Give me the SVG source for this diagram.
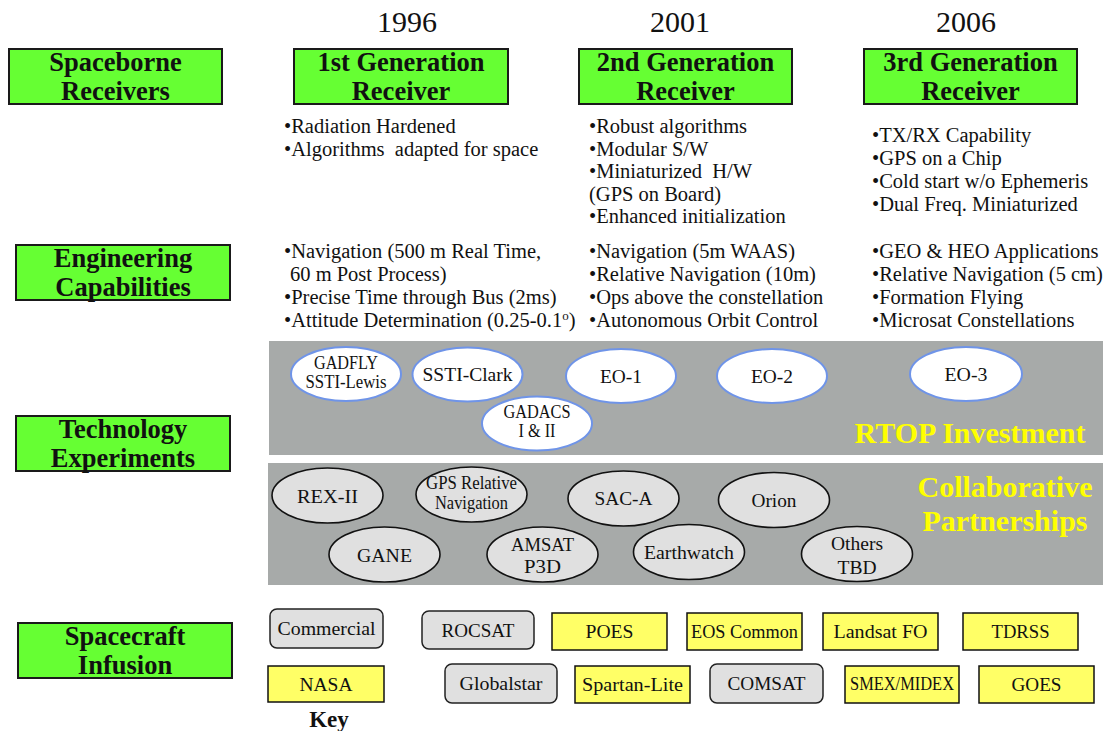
<svg xmlns="http://www.w3.org/2000/svg" width="1107" height="731" viewBox="0 0 1107 731">
<style>
text{font-family:'Liberation Serif','Times New Roman',serif;fill:#111}
.yr{font-size:30px;text-anchor:middle}
.gb{fill:#66ff33;stroke:#1a1a1a;stroke-width:2}
.gt{font-size:26.5px;font-weight:bold;text-anchor:middle}
.bl{font-size:20.5px}
.panel{fill:#a7aaa9}
.we{fill:#ffffff;stroke:#6f94e8;stroke-width:2}
.ge{fill:#e0e0e0;stroke:#111;stroke-width:1.6}
.et{font-size:19.5px;text-anchor:middle}
.yt{font-size:30px;font-weight:bold;fill:#ffff00;text-anchor:middle}
.yb{fill:#ffff66;stroke:#111;stroke-width:1.5}
.gr{fill:#e0e0e0;stroke:#222;stroke-width:1.5}
.bt{font-size:19.5px;text-anchor:middle}
</style>

<g id="years">
<text class="yr" x="407" y="32">1996</text>
<text class="yr" x="680" y="32">2001</text>
<text class="yr" x="966" y="32">2006</text>
</g>

<g id="spaceborne-receivers">
<rect class="gb" x="9" y="49" width="213" height="55"/>
<text class="gt" x="115.5" y="71">Spaceborne</text>
<text class="gt" x="115.5" y="100">Receivers</text>
</g>
<g id="gen1">
<rect class="gb" x="294" y="49" width="214" height="55"/>
<text class="gt" x="401" y="71">1st Generation</text>
<text class="gt" x="401" y="100">Receiver</text>
</g>
<g id="gen2">
<rect class="gb" x="579" y="49" width="213" height="55"/>
<text class="gt" x="685.5" y="71">2nd Generation</text>
<text class="gt" x="685.5" y="100">Receiver</text>
</g>
<g id="gen3">
<rect class="gb" x="864" y="49" width="213" height="55"/>
<text class="gt" x="970.5" y="71">3rd Generation</text>
<text class="gt" x="970.5" y="100">Receiver</text>
</g>

<g id="gen1-features">
<text class="bl" x="284" y="133">•Radiation Hardened</text>
<text class="bl" x="284" y="156" xml:space="preserve">•Algorithms  adapted for space</text>
</g>
<g id="gen2-features">
<text class="bl" x="589" y="133">•Robust algorithms</text>
<text class="bl" x="589" y="156">•Modular S/W</text>
<text class="bl" x="589" y="178" xml:space="preserve">•Miniaturized  H/W</text>
<text class="bl" x="589" y="201">(GPS on Board)</text>
<text class="bl" x="589" y="223">•Enhanced initialization</text>
</g>
<g id="gen3-features">
<text class="bl" x="872" y="142">•TX/RX Capability</text>
<text class="bl" x="872" y="165">•GPS on a Chip</text>
<text class="bl" x="872" y="188">•Cold start w/o Ephemeris</text>
<text class="bl" x="872" y="211">•Dual Freq. Miniaturized</text>
</g>

<g id="engineering-capabilities">
<rect class="gb" x="16" y="245" width="214" height="55"/>
<text class="gt" x="123" y="267">Engineering</text>
<text class="gt" x="123" y="296">Capabilities</text>
</g>
<g id="eng-1996">
<text class="bl" x="284" y="258">•Navigation (500 m Real Time,</text>
<text class="bl" x="290" y="281">60 m Post Process)</text>
<text class="bl" x="284" y="304">•Precise Time through Bus (2ms)</text>
<text class="bl" x="284" y="327">•Attitude Determination (0.25-0.1<tspan font-size="13" dy="-7">o</tspan><tspan dy="7">)</tspan></text>
</g>
<g id="eng-2001">
<text class="bl" x="589" y="258">•Navigation (5m WAAS)</text>
<text class="bl" x="589" y="281">•Relative Navigation (10m)</text>
<text class="bl" x="589" y="304">•Ops above the constellation</text>
<text class="bl" x="589" y="327">•Autonomous Orbit Control</text>
</g>
<g id="eng-2006">
<text class="bl" x="872" y="258">•GEO &amp; HEO Applications</text>
<text class="bl" x="872" y="281">•Relative Navigation (5 cm)</text>
<text class="bl" x="872" y="304">•Formation Flying</text>
<text class="bl" x="872" y="327">•Microsat Constellations</text>
</g>

<g id="technology-experiments">
<rect class="gb" x="16" y="416" width="214" height="55"/>
<text class="gt" x="123" y="438">Technology</text>
<text class="gt" x="123" y="467">Experiments</text>
</g>

<g id="rtop-panel">
<rect class="panel" x="269" y="341" width="834" height="114"/>
<text class="yt" x="970" y="443">RTOP Investment</text>
</g>
<g id="gadfly">
<ellipse class="we" cx="346" cy="374" rx="55" ry="27"/>
<text class="et" x="346" y="369" font-size="15.5" textLength="64" lengthAdjust="spacingAndGlyphs">GADFLY</text>
<text class="et" x="346" y="388" font-size="15.5" textLength="81" lengthAdjust="spacingAndGlyphs">SSTI-Lewis</text>
</g>
<g id="ssti-clark">
<ellipse class="we" cx="467.5" cy="374.5" rx="55" ry="27"/>
<text class="et" x="467.5" y="381" textLength="90" lengthAdjust="spacingAndGlyphs">SSTI-Clark</text>
</g>
<g id="eo1">
<ellipse class="we" cx="621" cy="376" rx="55" ry="27"/>
<text class="et" x="621" y="383" textLength="42" lengthAdjust="spacingAndGlyphs">EO-1</text>
</g>
<g id="eo2">
<ellipse class="we" cx="772" cy="376" rx="55" ry="27"/>
<text class="et" x="772" y="383" textLength="42" lengthAdjust="spacingAndGlyphs">EO-2</text>
</g>
<g id="eo3">
<ellipse class="we" cx="966" cy="374" rx="56" ry="27"/>
<text class="et" x="966" y="381" textLength="43" lengthAdjust="spacingAndGlyphs">EO-3</text>
</g>
<g id="gadacs">
<ellipse class="we" cx="537" cy="423.5" rx="55" ry="27"/>
<text class="et" x="537" y="418" font-size="16" textLength="67" lengthAdjust="spacingAndGlyphs">GADACS</text>
<text class="et" x="537" y="437" font-size="16" textLength="37" lengthAdjust="spacingAndGlyphs">I &amp; II</text>
</g>

<g id="collab-panel">
<rect class="panel" x="268" y="463" width="835" height="122"/>
<text class="yt" x="1005" y="497">Collaborative</text>
<text class="yt" x="1005" y="531">Partnerships</text>
</g>
<g id="rex2">
<ellipse class="ge" cx="327.5" cy="495.5" rx="55.5" ry="27.5"/>
<text class="et" x="327.5" y="503" font-size="20" textLength="61" lengthAdjust="spacingAndGlyphs">REX-II</text>
</g>
<g id="gps-relnav">
<ellipse class="ge" cx="471.5" cy="494.5" rx="55.5" ry="27.5"/>
<text class="et" x="471.5" y="489" font-size="15" textLength="91" lengthAdjust="spacingAndGlyphs">GPS Relative</text>
<text class="et" x="471.5" y="508.5" font-size="15" textLength="73" lengthAdjust="spacingAndGlyphs">Navigation</text>
</g>
<g id="sac-a">
<ellipse class="ge" cx="623.5" cy="498.5" rx="55.5" ry="27.5"/>
<text class="et" x="623.5" y="505" textLength="58" lengthAdjust="spacingAndGlyphs">SAC-A</text>
</g>
<g id="orion">
<ellipse class="ge" cx="774" cy="500" rx="55.5" ry="27.5"/>
<text class="et" x="774" y="507" textLength="45" lengthAdjust="spacingAndGlyphs">Orion</text>
</g>
<g id="gane">
<ellipse class="ge" cx="384.5" cy="554.5" rx="55.5" ry="27.5"/>
<text class="et" x="384.5" y="562" textLength="55" lengthAdjust="spacingAndGlyphs">GANE</text>
</g>
<g id="amsat">
<ellipse class="ge" cx="542.5" cy="554.5" rx="55.5" ry="27.5"/>
<text class="et" x="542.5" y="551" textLength="63" lengthAdjust="spacingAndGlyphs">AMSAT</text>
<text class="et" x="542.5" y="573" textLength="37" lengthAdjust="spacingAndGlyphs">P3D</text>
</g>
<g id="earthwatch">
<ellipse class="ge" cx="689" cy="552" rx="55.5" ry="27.5"/>
<text class="et" x="689" y="559" font-size="19" textLength="90" lengthAdjust="spacingAndGlyphs">Earthwatch</text>
</g>
<g id="others">
<ellipse class="ge" cx="857" cy="554" rx="55.5" ry="27.5"/>
<text class="et" x="857" y="550" textLength="52" lengthAdjust="spacingAndGlyphs">Others</text>
<text class="et" x="857" y="574" textLength="39" lengthAdjust="spacingAndGlyphs">TBD</text>
</g>

<g id="spacecraft-infusion">
<rect class="gb" x="18" y="623" width="214" height="55"/>
<text class="gt" x="125" y="645">Spacecraft</text>
<text class="gt" x="125" y="674">Infusion</text>
</g>

<g id="commercial">
<rect class="gr" x="270" y="609" width="113" height="39" rx="7"/>
<text class="bt" x="326.5" y="635" font-size="20" textLength="98" lengthAdjust="spacingAndGlyphs">Commercial</text>
</g>
<g id="rocsat">
<rect class="gr" x="422" y="611" width="112" height="38" rx="7"/>
<text class="bt" x="478" y="637" font-size="18.8" textLength="73" lengthAdjust="spacingAndGlyphs">ROCSAT</text>
</g>
<g id="poes">
<rect class="yb" x="552" y="613" width="115" height="37"/>
<text class="bt" x="609.5" y="638" textLength="48" lengthAdjust="spacingAndGlyphs">POES</text>
</g>
<g id="eos-common">
<rect class="yb" x="687" y="613" width="115" height="37"/>
<text class="bt" x="744.5" y="638" font-size="18.4" textLength="107" lengthAdjust="spacingAndGlyphs">EOS Common</text>
</g>
<g id="landsat-fo">
<rect class="yb" x="823" y="613" width="115" height="37"/>
<text class="bt" x="880.5" y="638" font-size="20" textLength="94" lengthAdjust="spacingAndGlyphs">Landsat FO</text>
</g>
<g id="tdrss">
<rect class="yb" x="963" y="613" width="115" height="37"/>
<text class="bt" x="1020.5" y="638" font-size="18.8" textLength="58" lengthAdjust="spacingAndGlyphs">TDRSS</text>
</g>
<g id="nasa">
<rect class="yb" x="268" y="666" width="116" height="36"/>
<text class="bt" x="326" y="691" textLength="53" lengthAdjust="spacingAndGlyphs">NASA</text>
</g>
<g id="globalstar">
<rect class="gr" x="445" y="664" width="112" height="39" rx="7"/>
<text class="bt" x="501" y="690" font-size="20" textLength="83" lengthAdjust="spacingAndGlyphs">Globalstar</text>
</g>
<g id="spartan-lite">
<rect class="yb" x="575" y="666" width="115" height="37"/>
<text class="bt" x="632.5" y="691" font-size="20" textLength="101" lengthAdjust="spacingAndGlyphs">Spartan-Lite</text>
</g>
<g id="comsat">
<rect class="gr" x="710" y="664" width="113" height="39" rx="7"/>
<text class="bt" x="766.5" y="690" font-size="18.8" textLength="78" lengthAdjust="spacingAndGlyphs">COMSAT</text>
</g>
<g id="smex-midex">
<rect class="yb" x="845" y="666" width="114" height="37"/>
<text class="bt" x="902" y="690" font-size="16.5" textLength="104" lengthAdjust="spacingAndGlyphs">SMEX/MIDEX</text>
</g>
<g id="goes">
<rect class="yb" x="979" y="666" width="115" height="37"/>
<text class="bt" x="1036.5" y="691" textLength="50" lengthAdjust="spacingAndGlyphs">GOES</text>
</g>
<g id="key">
<text x="329" y="727" font-size="23" font-weight="bold" text-anchor="middle">Key</text>
</g>
</svg>
